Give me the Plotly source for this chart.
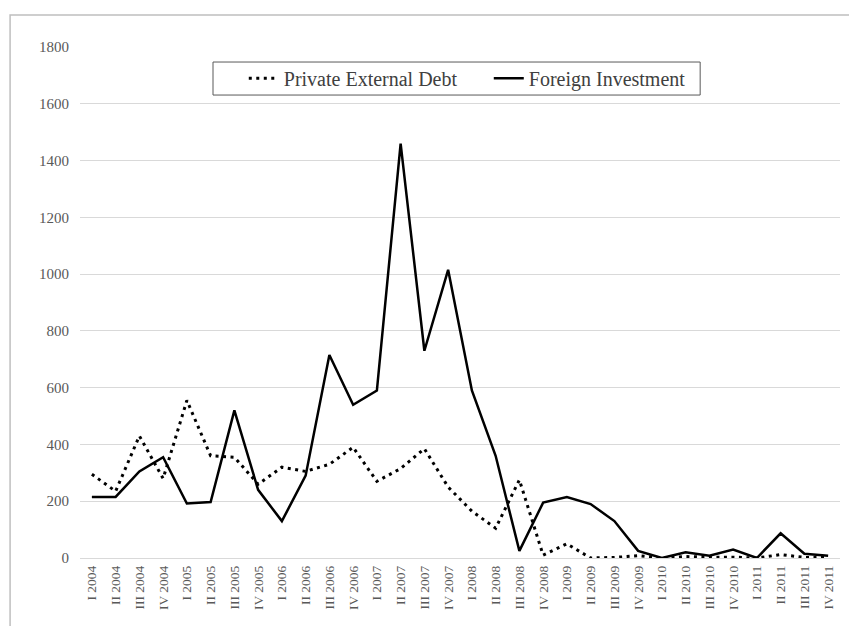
import plotly.graph_objects as go

quarters = [
    "I 2004", "II 2004", "III 2004", "IV 2004",
    "I 2005", "II 2005", "III 2005", "IV 2005",
    "I 2006", "II 2006", "III 2006", "IV 2006",
    "I 2007", "II 2007", "III 2007", "IV 2007",
    "I 2008", "II 2008", "III 2008", "IV 2008",
    "I 2009", "II 2009", "III 2009", "IV 2009",
    "I 2010", "II 2010", "III 2010", "IV 2010",
    "I 2011", "II 2011", "III 2011", "IV 2011",
]

private_external_debt = [
    295, 235, 430, 280, 555, 360, 355, 260,
    320, 305, 330, 390, 270, 315, 385, 250,
    165, 105, 275, 10, 50, 0, 2, 8,
    0, 5, 3, 3, 0, 12, 2, 2,
]

foreign_investment = [
    215, 215, 305, 355, 192, 197, 520, 240,
    130, 290, 715, 540, 590, 1460, 730, 1015,
    590, 360, 25, 195, 215, 190, 130, 25,
    0, 20, 8, 30, 0, 87, 15, 8,
]

y_ticks = [0, 200, 400, 600, 800, 1000, 1200, 1400, 1600, 1800]

serif = "Liberation Serif, Times New Roman, serif"

fig = go.Figure()

# Deuda externa privada (punteada)
fig.add_trace(
    go.Scatter(
        x=quarters, y=private_external_debt,
        mode="lines",
        name="Private External Debt",
        line=dict(color="black", width=3, dash="3px,4.5px"),
    )
)

# Inversión extranjera (sólida)
fig.add_trace(
    go.Scatter(
        x=quarters, y=foreign_investment,
        mode="lines",
        name="Foreign Investment",
        line=dict(color="black", width=2.5),
    )
)

# marco exterior del gráfico
fig.add_shape(
    type="rect", xref="paper", yref="paper",
    x0=-0.092, x1=1.1, y0=-0.3, y1=1.0626,
    line=dict(color="#bfbfbf", width=1.5),
    fillcolor="rgba(0,0,0,0)", layer="below",
)

# recuadro de la leyenda
fig.add_shape(
    type="rect", xref="paper", yref="paper",
    x0=0.175, x1=0.816, y0=0.906, y1=0.9706,
    line=dict(color="#595959", width=1),
    fillcolor="white", layer="below",
)

fig.update_layout(
    width=857, height=626,
    template="none",
    paper_bgcolor="white",
    plot_bgcolor="white",
    margin=dict(l=72, r=25, t=39, b=76),
    font=dict(family=serif, color="#595959"),
    showlegend=True,
    legend=dict(
        orientation="h",
        x=0.2155, y=0.939, xanchor="left", yanchor="middle",
        borderwidth=0,
        bgcolor="rgba(0,0,0,0)",
        font=dict(family=serif, size=20, color="#404040"),
        itemwidth=30,
        entrywidthmode="pixels", entrywidth=200,
    ),
    xaxis=dict(
        type="category",
        tickangle=-90,
        tickfont=dict(family=serif, size=13.5, color="#595959"),
        ticklabelstandoff=4,
        showgrid=False,
        showline=False,
        ticks="",
        range=[-0.5, 31.5],
    ),
    yaxis=dict(
        range=[0, 1800],
        tickvals=y_ticks,
        tickfont=dict(family=serif, size=15, color="#595959"),
        ticklabelstandoff=10,
        showgrid=True, gridcolor="#d9d9d9", gridwidth=1,
        zeroline=True, zerolinecolor="#d9d9d9", zerolinewidth=1,
        ticks="", ticklen=0,
        showline=False,
    ),
)

fig.write_html("out.html")
